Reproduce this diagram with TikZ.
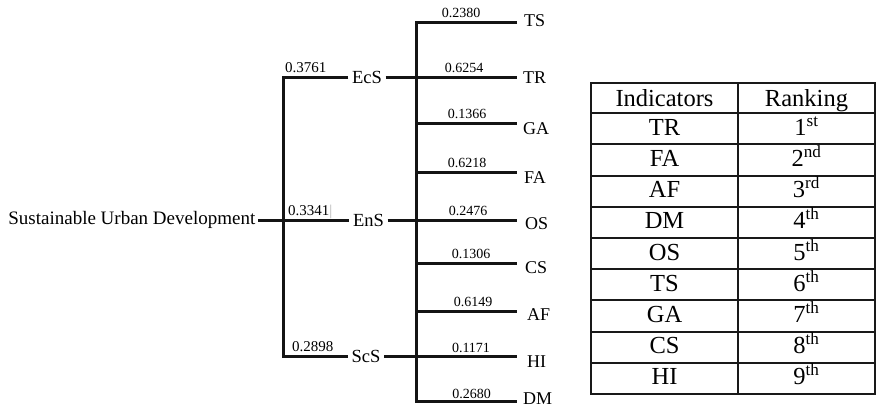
\documentclass[tikz,border=0pt]{standalone}
\usepackage{fontspec}
\setmainfont{Liberation Serif}
\begin{document}
\begin{tikzpicture}[x=1pt,y=-1pt,
  branch/.style={line width=3pt, line join=miter, line cap=butt, draw=black!92},
  grid/.style={line width=2pt, draw=black!90},
  crit/.style={font=\fontsize{18.5}{20}\selectfont, inner xsep=3.5pt, inner ysep=0pt},
  leaf/.style={font=\fontsize{18}{20}\selectfont, inner sep=0pt, anchor=west},
  wl/.style={font=\fontsize{15}{16}\selectfont, inner sep=0pt, anchor=base west},
  wr/.style={font=\fontsize{14}{15}\selectfont, inner sep=0pt, anchor=base},
  cell/.style={font=\fontsize{24.5}{26}\selectfont, inner sep=0pt, anchor=base}
]
\useasboundingbox (0,0) rectangle (876,408);

% goal and criteria
\node[font=\fontsize{19}{21}\selectfont, inner xsep=2.5pt, inner ysep=0pt, anchor=east] (root) at (258,220) {Sustainable Urban Development};
\node[crit] (EcS) at (367,77) {EcS};
\node[crit] (EnS) at (368.5,220) {EnS};
\node[crit] (ScS) at (366,356.5) {ScS};

\coordinate (lt) at (283,77);
\coordinate (lb) at (283,356.5);
\draw[branch] (EcS.west) -- (lt) -- (lb) -- (ScS.west);
\draw[branch] (root.east) -- (EnS.west);

% criterion weights
\node[wl] (wEc) at (285,72.5) {0.3761};
\node[wl] (wEn) at (288,215) {0.3341\textcolor{black!30}{|}};
\node[wl] (wSc) at (292,351.7) {0.2898};

% indicator branch ends
\coordinate (tsE) at (517,22.7);
\coordinate (trE) at (517,77);
\coordinate (gaE) at (517,123.3);
\coordinate (faE) at (517,172.7);
\coordinate (osE) at (517,220);
\coordinate (csE) at (517,263.5);
\coordinate (afE) at (517,311.7);
\coordinate (hiE) at (517,356.5);
\coordinate (dmE) at (517,401);

\coordinate (vt) at (416,22.7);
\coordinate (vb) at (416,401);
\coordinate (gaS) at (416,123.3);
\coordinate (faS) at (416,172.7);
\coordinate (csS) at (416,263.5);
\coordinate (afS) at (416,311.7);

\draw[branch] (tsE) -- (vt) -- (vb) -- (dmE);
\draw[branch] (EcS.east) -- (trE);
\draw[branch] (EnS.east) -- (osE);
\draw[branch] (ScS.east) -- (hiE);
\draw[branch] (gaS) -- (gaE);
\draw[branch] (faS) -- (faE);
\draw[branch] (csS) -- (csE);
\draw[branch] (afS) -- (afE);

% indicator labels
\node[leaf] (TS) at (524,20.8) {TS};
\node[leaf] (TR) at (523,77.5) {TR};
\node[leaf] (GA) at (523,128.3) {GA};
\node[leaf] (FA) at (524,177.5) {FA};
\node[leaf] (OS) at (525,224) {OS};
\node[leaf] (CS) at (525,267.5) {CS};
\node[leaf] (AF) at (527,315) {AF};
\node[leaf] (HI) at (527,361.7) {HI};
\node[leaf] (DM) at (523,399) {DM};

% indicator weights
\node[wr] (wTS) at (461,17.5) {0.2380};
\node[wr] (wTR) at (464,72.5) {0.6254};
\node[wr] (wGA) at (467,118.3) {0.1366};
\node[wr] (wFA) at (467,167.7) {0.6218};
\node[wr] (wOS) at (468,215) {0.2476};
\node[wr] (wCS) at (471,258.5) {0.1306};
\node[wr] (wAF) at (473,306.7) {0.6149};
\node[wr] (wHI) at (471,352) {0.1171};
\node[wr] (wDM) at (471.5,398.5) {0.2680};

% ranking table
\draw[grid] (591,82.7) rectangle (875,394);
\draw[grid] (738,82.7) -- (738,394);
\foreach \k in {0,...,8} {
  \draw[grid] (591,113.3+31.19*\k) -- (875,113.3+31.19*\k);
}
\node[cell] (hInd) at (664.5,106.5) {Indicators};
\node[cell] (hRank) at (806.5,106.5) {Ranking};
\foreach \name/\rank [count=\k from 0] in {TR/1\textsuperscript{st}, FA/2\textsuperscript{nd}, AF/3\textsuperscript{rd}, DM/4\textsuperscript{th}, OS/5\textsuperscript{th}, TS/6\textsuperscript{th}, GA/7\textsuperscript{th}, CS/8\textsuperscript{th}, HI/9\textsuperscript{th}} {
  \node[cell] (ind\k) at (664.5,113.3+31.19*\k+22) {\name};
  \node[cell] (rank\k) at (806.5,113.3+31.19*\k+22) {\rank};
}
\end{tikzpicture}
\end{document}
